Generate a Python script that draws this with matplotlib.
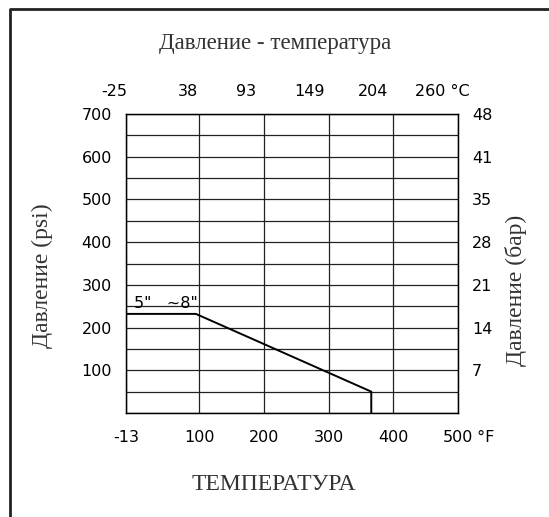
import matplotlib.pyplot as plt
from matplotlib.lines import Line2D

# data
temp_f = [-13, 95, 366, 366]
press_psi = [232, 232, 50, 0]
f_ticks = [-13, 100, 200, 300, 400, 500]
f_labels = ['-13', '100', '200', '300', '400', '500']
c_labels = ['-25', '38', '93', '149', '204', '260 °C']
c_label_pos = [-31, 83, 172, 270, 369, 475]
psi_grid = list(range(0, 701, 50))
psi_ticks = [100, 200, 300, 400, 500, 600, 700]
bar_labels = ['7', '14', '21', '28', '35', '41', '48']
size_label = '5"   ~8"'

W, H = 549, 517
fig = plt.figure(figsize=(W / 100, H / 100), dpi=100)
ax = fig.add_axes([126 / W, 1 - 413 / H, 332 / W, 299 / H])

serif = 'Liberation Serif'
sans = 'DejaVu Sans'
gray = '#333333'
fs = 11.5

ax.set_xlim(-13, 500)
ax.set_ylim(0, 700)
for y in psi_grid:
    ax.axhline(y, color='#222222', lw=0.9, zorder=1)
for x in f_ticks:
    ax.axvline(x, color='#222222', lw=0.9, zorder=1)

ax.plot(temp_f, press_psi, color='black', lw=1.4, zorder=3)
ax.text(0, 238, size_label, fontsize=fs, family=sans, ha='left', va='bottom')

ax.set_xticks(f_ticks)
ax.set_xticklabels(f_labels, family=sans, fontsize=fs)
ax.set_yticks(psi_ticks)
ax.set_yticklabels([str(v) for v in psi_ticks], family=sans, fontsize=fs)
ax.tick_params(length=0, pad=12)
ax.tick_params(axis='y', pad=10)
for s in ax.spines.values():
    s.set_linewidth(1.0)

axr = ax.twinx()
axr.set_ylim(0, 700)
axr.set_yticks(psi_ticks)
axr.set_yticklabels(bar_labels, family=sans, fontsize=fs)
axr.tick_params(length=0, pad=10)

# celsius labels on top
for pos, lab in zip(c_label_pos, c_labels):
    ax.text(pos, 734, lab, fontsize=fs, family=sans, ha='center', va='bottom')
ax.annotate(' °F', xy=(500, 0), xytext=(14, -24), textcoords='offset pixels',
            fontsize=fs, family=sans, ha='left', va='center')

fig.text(275 / W, 1 - 43 / H, 'Давление - температура', family=serif,
         fontsize=16.5, color=gray, ha='center', va='center')
fig.text(274 / W, 1 - 485 / H, 'ТЕМПЕРАТУРА', family=serif,
         fontsize=17, color=gray, ha='center', va='center')
fig.text(42 / W, 1 - 276 / H, 'Давление (psi)', family=serif,
         fontsize=17, color=gray, ha='center', va='center', rotation=90)
fig.text(516 / W, 1 - 290 / H, 'Давление (бар)', family=serif,
         fontsize=17, color=gray, ha='center', va='center', rotation=90)

# outer frame (left and top edges)
x0, y0 = 10 / W, 1 - 8.5 / H
fig.add_artist(Line2D([x0, x0, 1.0], [0.0, y0, y0], transform=fig.transFigure,
                      color='#222222', lw=2))

fig.savefig('out.png', dpi=100)
